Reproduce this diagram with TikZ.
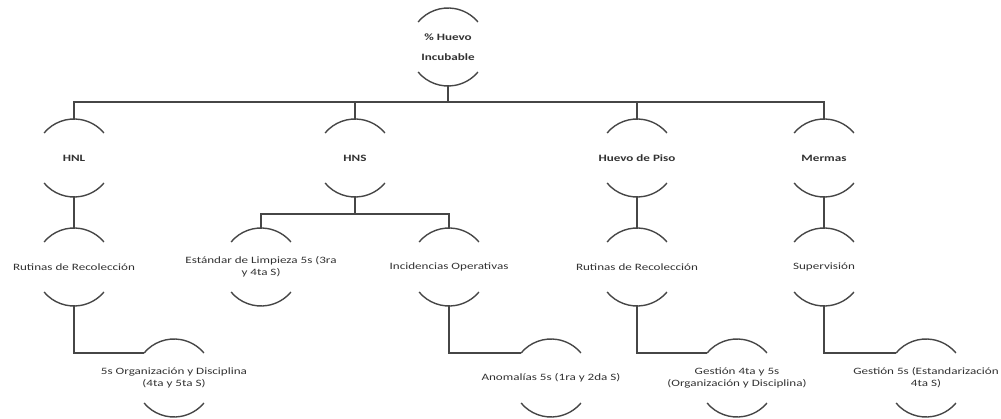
\documentclass[tikz,border=0pt]{standalone}
\usepackage{fontspec}
\setmainfont{Carlito}[FakeStretch=1.35]
\usetikzlibrary{positioning,calc}

\definecolor{linegray}{RGB}{70,70,70}
\definecolor{textgray}{RGB}{50,50,50}

\tikzset{
  half/.style={minimum height=78pt, inner sep=0pt, outer sep=0pt, align=center,
    text=textgray, font=\fontsize{9.7}{12}\selectfont},
  head/.style={half, font=\fontsize{9.7}{12}\selectfont\bfseries},
  arcline/.style={draw=linegray, line width=1.4pt},
  link/.style={draw=linegray, line width=1.4pt},
}

\begin{document}
\begin{tikzpicture}[x=1pt,y=1pt]
    \useasboundingbox (0,0) rectangle (1001,418);
    % top level
    \node[head] (root) at (448,371) {\% Huevo\\[8pt]Incubable};
    % first level
    \node[head] (hnl) at (74,260) {HNL};
    \node[head] (hns) at (355,260) {HNS};
    \node[head] (hp) at (637,260) {Huevo de Piso};
    \node[head] (mer) at (824,260) {Mermas};
    % second level
    \node[half] (rut1) at (74,151) {Rutinas de Recolección};
    \node[half] (est) at (261,151) {Estándar de Limpieza 5s (3ra\\y 4ta S)};
    \node[half] (inc) at (449,151) {Incidencias Operativas};
    \node[half] (rut2) at (637,151) {Rutinas de Recolección};
    \node[half] (sup) at (824,151) {Supervisión};
    % third level
    \node[half] (org) at (174,40) {5s Organización y Disciplina\\(4ta y 5ta S)};
    \node[half] (anom) at (551,40) {Anomalías 5s (1ra y 2da S)};
    \node[half] (ges1) at (737,40) {Gestión 4ta y 5s\\(Organización y Disciplina)};
    \node[half] (ges2) at (926,40) {Gestión 5s (Estandarización\\4ta S)};

    % half circles
    \foreach \n in {root,hnl,hns,hp,mer,rut1,est,inc,rut2,sup,org,anom,ges1,ges2} {
        \draw[arcline] ([shift={(140:39pt)}]\n.center) arc[start angle=140, end angle=40, radius=39pt];
        \draw[arcline] ([shift={(220:39pt)}]\n.center) arc[start angle=220, end angle=320, radius=39pt];
    }

    % connectors
    \draw[link] (root.south) -- ++(0,-16) coordinate (bus);
    \foreach \c in {hnl,hns,hp,mer}
        \draw[link] (bus) -| (\c.north);
    \draw[link] (hns.south) -- ++(0,-17) coordinate (sbus);
    \draw[link] (sbus) -| (est.north);
    \draw[link] (sbus) -| (inc.north);
    \draw[link] (hnl.south) -- (rut1.north);
    \draw[link] (hp.south) -- (rut2.north);
    \draw[link] (mer.south) -- (sup.north);
    \draw[link] (rut1.south) |- ([shift={(140:39pt)}]org.center);
    \draw[link] (inc.south) |- ([shift={(140:39pt)}]anom.center);
    \draw[link] (rut2.south) |- ([shift={(140:39pt)}]ges1.center);
    \draw[link] (sup.south) |- ([shift={(140:39pt)}]ges2.center);
\end{tikzpicture}
\end{document}
